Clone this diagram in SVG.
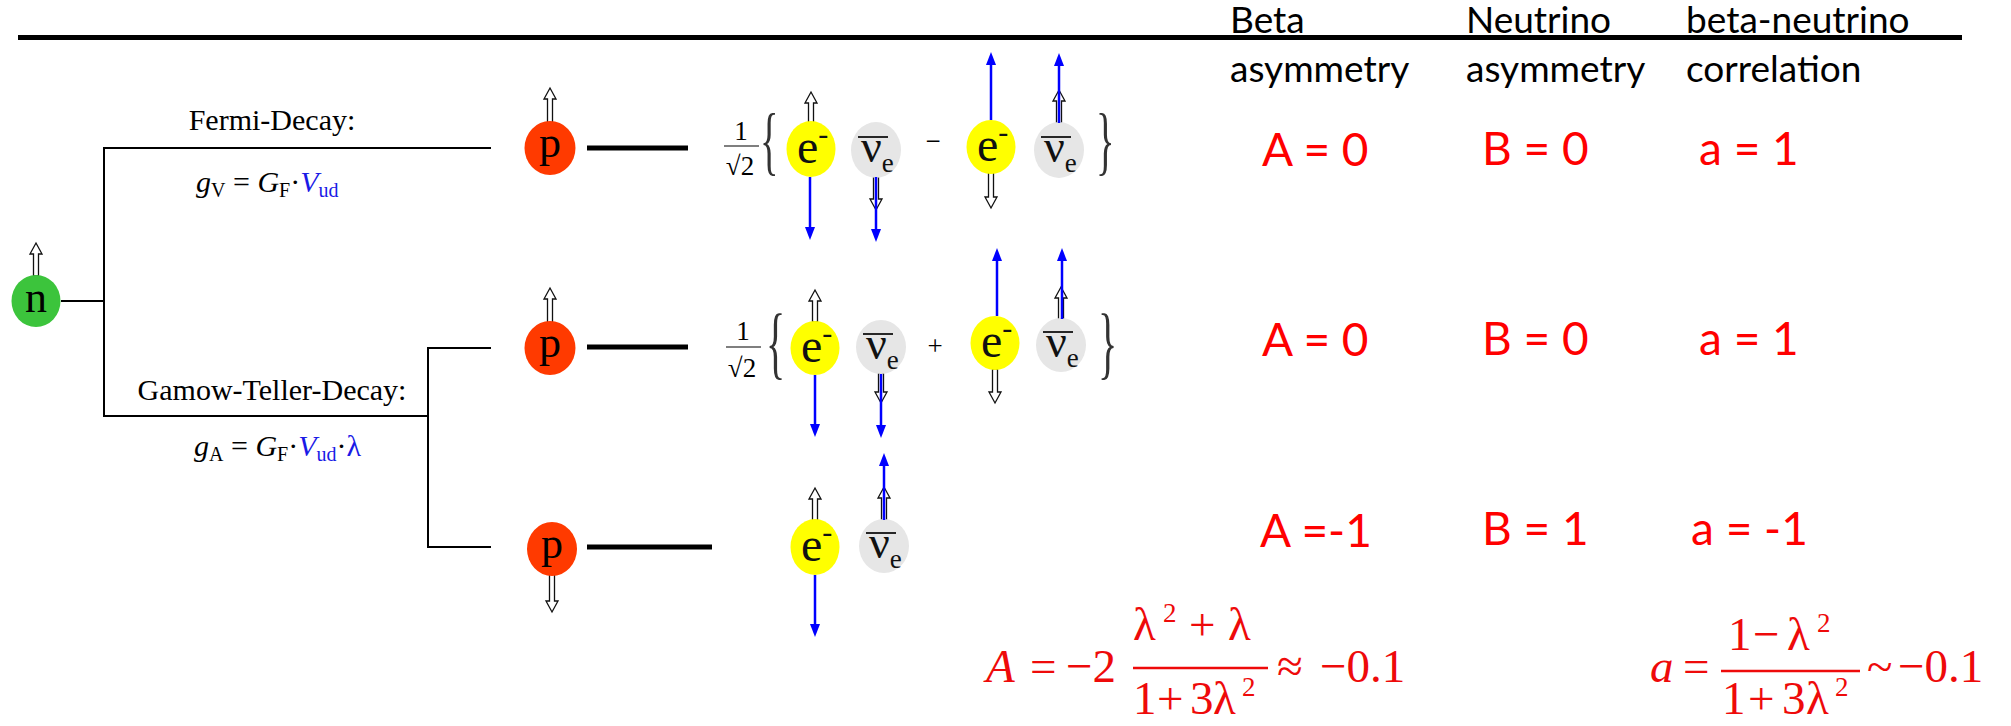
<svg xmlns="http://www.w3.org/2000/svg" width="2011" height="726" viewBox="0 0 2011 726">
<defs>
<style>
.wire{stroke:#000;stroke-width:2;fill:none}
.thick{stroke:#000;stroke-width:5;fill:none}
.blue{stroke:#0000ff;stroke-width:2.5;fill:none;marker-end:url(#bh)}
.spin{fill:#fff;stroke:#111;stroke-width:1.3}
.tr{font-family:"Liberation Serif","Times New Roman",serif}
.cal{font-family:Lato,"Liberation Sans",sans-serif}
.hd{font-size:37px;fill:#000}
.val{font-size:46px;fill:#ff0000}
.pn{fill:#ff3a00}
.nn{fill:#3cc43c}
.en{fill:#ffff00}
.vn{fill:#e6e6e6}
.lbl{font-size:44px;fill:#000;text-anchor:middle}
.el{font-size:48px;fill:#111}
.nu{font-size:46px;fill:#111}
.sub{font-size:27px}
.frac{font-size:27px;fill:#000;text-anchor:middle}
.brace{fill:#333}
.ob{stroke:#111;stroke-width:1.8}
.fx{font-size:47px;fill:#ee0a0a}
.sup{font-size:27px}
.rbar{stroke:#ee0a0a;stroke-width:2.6}
</style>
<marker id="bh" viewBox="0 0 13 10" refX="1" refY="5" markerWidth="13" markerHeight="10" markerUnits="userSpaceOnUse" orient="auto">
<path d="M0,0 L13,5 L0,10 Z" fill="#0000ff"/>
</marker>
</defs>
<rect width="2011" height="726" fill="#fff"/>

<line x1="18" y1="37.5" x2="1962" y2="37.5" stroke="#000" stroke-width="5"/>

<g id="headers" class="cal hd">
<text x="1230" y="33">Beta</text>
<text x="1230" y="82">asymmetry</text>
<text x="1466" y="33">Neutrino</text>
<text x="1466" y="82">asymmetry</text>
<text x="1686" y="33">beta-neutrino</text>
<text x="1686" y="82">correlation</text>
</g>

<g id="connectors">
<line class="wire" x1="61" y1="301" x2="104" y2="301"/>
<line class="wire" x1="104" y1="147" x2="104" y2="417"/>
<line class="wire" x1="104" y1="148" x2="491" y2="148"/>
<line class="wire" x1="104" y1="416" x2="428" y2="416"/>
<line class="wire" x1="428" y1="347" x2="428" y2="548"/>
<line class="wire" x1="428" y1="348" x2="491" y2="348"/>
<line class="wire" x1="428" y1="547" x2="491" y2="547"/>
<line class="thick" x1="587" y1="148" x2="688" y2="148"/>
<line class="thick" x1="587" y1="347" x2="688" y2="347"/>
<line class="thick" x1="587" y1="547" x2="712" y2="547"/>
</g>

<g id="labels" class="tr" fill="#000">
<text x="272" y="130" font-size="30" text-anchor="middle">Fermi-Decay:</text>
<text x="196" y="192" font-size="30"><tspan font-style="italic">g</tspan><tspan font-size="20" dy="5">V</tspan><tspan dy="-5"> = </tspan><tspan font-style="italic">G</tspan><tspan font-size="20" dy="5">F</tspan><tspan dy="-5">·</tspan><tspan font-style="italic" fill="#1a1ae6">V</tspan><tspan font-size="20" dy="5" fill="#1a1ae6">ud</tspan></text>
<text x="272" y="400" font-size="30" text-anchor="middle">Gamow-Teller-Decay:</text>
<text x="194" y="456" font-size="30"><tspan font-style="italic">g</tspan><tspan font-size="20" dy="5">A</tspan><tspan dy="-5"> = </tspan><tspan font-style="italic">G</tspan><tspan font-size="20" dy="5">F</tspan><tspan dy="-5">·</tspan><tspan font-style="italic" fill="#1a1ae6">V</tspan><tspan font-size="20" dy="5" fill="#1a1ae6">ud</tspan><tspan dy="-5">·</tspan><tspan fill="#1a1ae6">λ</tspan></text>
</g>

<g id="n">
<path class="spin" d="M33.5 276 V254 H30 L36 243 L42 254 H38.5 V276 Z"/>
<ellipse class="nn" cx="36" cy="301" rx="24.5" ry="26"/>
<text class="tr lbl" x="36" y="312">n</text>
</g>

<g id="p1">
<path class="spin" d="M547.5 124 V99 H544 L550 88 L556 99 H552.5 V124 Z"/>
<ellipse class="pn" cx="550" cy="148" rx="25.5" ry="27"/>
<text class="tr lbl" x="550" y="157">p</text>
</g>
<g id="p2">
<path class="spin" d="M547.5 324 V299 H544 L550 288 L556 299 H552.5 V324 Z"/>
<ellipse class="pn" cx="550" cy="348" rx="25.5" ry="27"/>
<text class="tr lbl" x="550" y="357">p</text>
</g>
<g id="p3">
<path class="spin" d="M549.5 574 V601 H546 L552 612 L558 601 H554.5 V574 Z"/>
<ellipse class="pn" cx="552" cy="549" rx="25" ry="27"/>
<text class="tr lbl" x="552" y="558">p</text>
</g>

<g id="row1-prefactor">
<text class="tr frac" x="741" y="140">1</text>
<line x1="724" y1="146" x2="759" y2="146" stroke="#000" stroke-width="1.2"/>
<text class="tr frac" x="740" y="175">√2</text>
<text class="tr brace" font-size="77" transform="translate(760,166) scale(0.5,1)">{</text>
<text class="tr brace" font-size="77" transform="translate(1096,166) scale(0.5,1)">}</text>
<text class="tr frac" x="933" y="150">−</text>
</g>

<g id="e1">
<path class="spin" d="M808.5 124 V103 H805 L811 92 L817 103 H813.5 V124 Z"/>
<ellipse class="en" cx="811" cy="149" rx="24.5" ry="28"/>
<text class="tr el" x="797" y="163">e<tspan font-size="30" dy="-19">-</tspan></text>
<line class="blue" x1="810" y1="177" x2="810" y2="228"/>
</g>
<g id="nu1">
<path class="spin" d="M873.5 176 V199 H870 L876 210 L882 199 H878.5 V176 Z"/>
<ellipse class="vn" cx="876" cy="150" rx="25" ry="28"/>
<text class="tr nu" x="861" y="162">ν<tspan class="sub" dy="10">e</tspan></text>
<line class="ob" x1="858" y1="137" x2="888" y2="137"/>
<line class="blue" x1="876" y1="177" x2="876" y2="230"/>
</g>
<g id="e2">
<path class="spin" d="M988.5 171 V197 H985 L991 208 L997 197 H993.5 V171 Z"/>
<ellipse class="en" cx="991" cy="147" rx="24.5" ry="27"/>
<text class="tr el" x="977" y="161">e<tspan font-size="30" dy="-19">-</tspan></text>
<line class="blue" x1="991" y1="120" x2="991" y2="64"/>
</g>
<g id="nu2">
<path class="spin" d="M1056.5 124 V101 H1053 L1059 90 L1065 101 H1061.5 V124 Z"/>
<ellipse class="vn" cx="1059" cy="150" rx="25" ry="28"/>
<text class="tr nu" x="1044" y="162">ν<tspan class="sub" dy="10">e</tspan></text>
<line class="ob" x1="1041" y1="137" x2="1071" y2="137"/>
<line class="blue" x1="1059" y1="123" x2="1059" y2="65"/>
</g>

<g id="row2-prefactor">
<text class="tr frac" x="743" y="340">1</text>
<line x1="726" y1="347" x2="761" y2="347" stroke="#000" stroke-width="1.2"/>
<text class="tr frac" x="742" y="377">√2</text>
<text class="tr brace" font-size="80" transform="translate(766,369) scale(0.5,1)">{</text>
<text class="tr brace" font-size="80" transform="translate(1098,369) scale(0.5,1)">}</text>
<text class="tr frac" x="935" y="355">+</text>
</g>

<g id="e3">
<path class="spin" d="M812.5 322 V301 H809 L815 290 L821 301 H817.5 V322 Z"/>
<ellipse class="en" cx="815" cy="348" rx="24.5" ry="27"/>
<text class="tr el" x="801" y="362">e<tspan font-size="30" dy="-19">-</tspan></text>
<line class="blue" x1="815" y1="375" x2="815" y2="425"/>
</g>
<g id="nu3">
<path class="spin" d="M878.5 373 V392 H875 L881 403 L887 392 H883.5 V373 Z"/>
<ellipse class="vn" cx="881" cy="347" rx="25" ry="27"/>
<text class="tr nu" x="866" y="359">ν<tspan class="sub" dy="10">e</tspan></text>
<line class="ob" x1="863" y1="334" x2="893" y2="334"/>
<line class="blue" x1="881" y1="374" x2="881" y2="426"/>
</g>
<g id="e4">
<path class="spin" d="M992.5 369 V392 H989 L995 403 L1001 392 H997.5 V369 Z"/>
<ellipse class="en" cx="995" cy="343" rx="24.5" ry="27"/>
<text class="tr el" x="981" y="357">e<tspan font-size="30" dy="-19">-</tspan></text>
<line class="blue" x1="997" y1="316" x2="997" y2="260"/>
</g>
<g id="nu4">
<path class="spin" d="M1058.5 320 V298 H1055 L1061 287 L1067 298 H1063.5 V320 Z"/>
<ellipse class="vn" cx="1061" cy="345" rx="25" ry="27"/>
<text class="tr nu" x="1046" y="357">ν<tspan class="sub" dy="10">e</tspan></text>
<line class="ob" x1="1043" y1="332" x2="1073" y2="332"/>
<line class="blue" x1="1062" y1="319" x2="1062" y2="260"/>
</g>

<g id="e5">
<path class="spin" d="M812.5 521 V499 H809 L815 488 L821 499 H817.5 V521 Z"/>
<ellipse class="en" cx="815" cy="547" rx="24.5" ry="28"/>
<text class="tr el" x="801" y="561">e<tspan font-size="30" dy="-19">-</tspan></text>
<line class="blue" x1="815" y1="575" x2="815" y2="625"/>
</g>
<g id="nu5">
<path class="spin" d="M881.5 521 V498 H878 L884 487 L890 498 H886.5 V521 Z"/>
<ellipse class="vn" cx="884" cy="546" rx="25" ry="27"/>
<text class="tr nu" x="869" y="558">ν<tspan class="sub" dy="10">e</tspan></text>
<line class="ob" x1="866" y1="533" x2="896" y2="533"/>
<line class="blue" x1="884" y1="520" x2="884" y2="465"/>
</g>

<g id="values" class="cal val">
<text x="1262" y="166">A = 0</text>
<text x="1482" y="165">B = 0</text>
<text x="1699" y="165">a = 1</text>
<text x="1262" y="356">A = 0</text>
<text x="1482" y="355">B = 0</text>
<text x="1699" y="355">a = 1</text>
<text x="1260" y="547">A =-1</text>
<text x="1482" y="545">B = 1</text>
<text x="1691" y="545">a = -1</text>
</g>

<g id="formula-A" class="tr fx">
<text x="986" y="682" font-style="italic">A</text>
<text x="1030" y="682">=</text>
<text x="1066" y="682">−2</text>
<text x="1133" y="640">λ</text>
<text class="sup" x="1163" y="622">2</text>
<text x="1189" y="640">+</text>
<text x="1228" y="640">λ</text>
<line class="rbar" x1="1133" y1="668" x2="1268" y2="668"/>
<text x="1133" y="714">1</text>
<text x="1157" y="714">+</text>
<text x="1190" y="714">3</text>
<text x="1213" y="714">λ</text>
<text class="sup" x="1242" y="696">2</text>
<text x="1277" y="682">≈</text>
<text x="1320" y="682">−0.1</text>
</g>

<g id="formula-a" class="tr fx">
<text x="1650" y="682" font-style="italic">a</text>
<text x="1683" y="682">=</text>
<text x="1728" y="650">1</text>
<text x="1753" y="650">−</text>
<text x="1787" y="650">λ</text>
<text class="sup" x="1817" y="632">2</text>
<line class="rbar" x1="1721" y1="671" x2="1860" y2="671"/>
<text x="1722" y="714">1</text>
<text x="1748" y="714">+</text>
<text x="1782" y="714">3</text>
<text x="1806" y="714">λ</text>
<text class="sup" x="1835" y="696">2</text>
<text x="1867" y="682">~</text>
<text x="1898" y="682">−0.1</text>
</g>
</svg>
